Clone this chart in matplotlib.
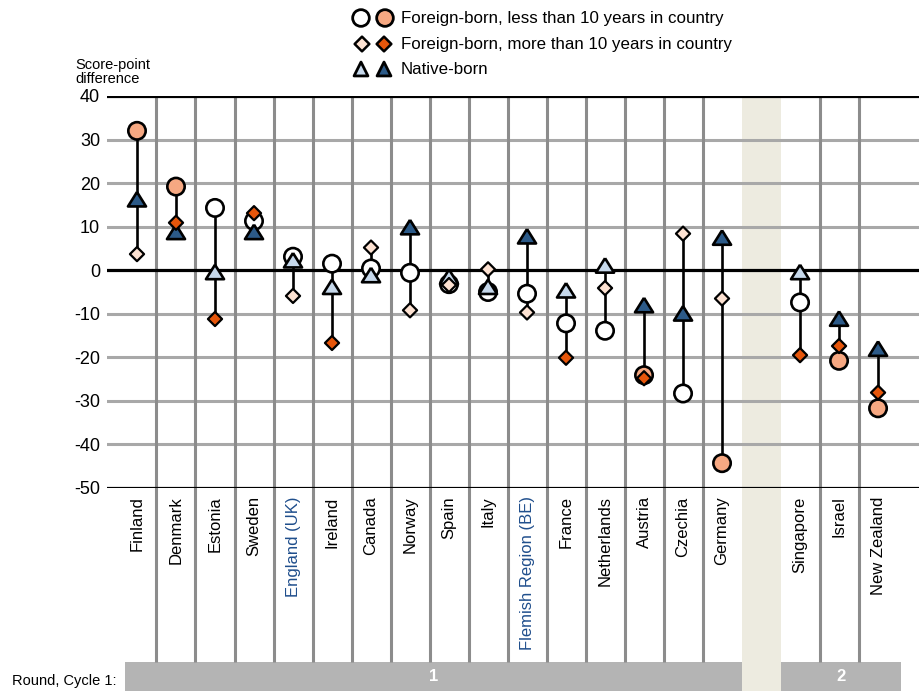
import numpy as np
import matplotlib.pyplot as plt
from matplotlib.patches import Rectangle

plt.rcParams['font.family'] = ['Liberation Sans', 'DejaVu Sans']
plt.rcParams['axes.unicode_minus'] = False

# Score-point differences by migrant background
countries = ["Finland", "Denmark", "Estonia", "Sweden", "England (UK)", "Ireland",
             "Canada", "Norway", "Spain", "Italy", "Flemish Region (BE)", "France",
             "Netherlands", "Austria", "Czechia", "Germany", "Singapore", "Israel",
             "New Zealand"]
rounds = [1] * 16 + [2] * 3
subnational = ["England (UK)", "Flemish Region (BE)"]

recent = [32.0, 19.2, 14.3, 11.3, 3.1, 1.5, 0.4, -0.6, -3.2, -5.0, -5.4, -12.2,
          -13.9, -24.1, -28.3, -44.3, -7.4, -20.8, -31.7]
recent_sig = [1, 1, 0, 0, 0, 0, 0, 0, 0, 0, 0, 0, 0, 1, 0, 1, 0, 1, 1]

settled = [3.7, 10.9, -11.2, 13.1, -5.9, -16.7, 5.2, -9.2, -3.4, 0.2, -9.7, -20.1,
           -4.1, -24.8, 8.4, -6.5, -19.5, -17.4, -28.1]
settled_sig = [0, 1, 1, 1, 0, 1, 0, 0, 0, 0, 0, 1, 0, 1, 0, 0, 1, 1, 1]

native = [16.3, 8.8, -0.4, 8.8, 2.3, -3.8, -1.1, 9.9, -1.5, -3.8, 7.8, -4.6, 1.1,
          -8.0, -9.9, 7.5, -0.4, -11.1, -18.0]
native_sig = [1, 1, 0, 1, 0, 0, 0, 1, 0, 0, 1, 0, 0, 1, 1, 1, 0, 1, 1]

legend_labels = ["Foreign-born, less than 10 years in country",
                 "Foreign-born, more than 10 years in country",
                 "Native-born"]

# colours: (not significant, significant)
circ_col = ("#ffffff", "#f6a882")
diam_col = ("#fde2d2", "#e6560b")
tri_col = ("#c6d8eb", "#2c5a88")
tri_marker = [(0, 0.8), (-1, -0.8), (1, -0.8), (0, 0.8)]

rounds = np.array(rounds)
pos = np.arange(len(countries)) + (rounds == 2)   # leave one empty column between rounds
gap = pos[rounds == 1].max() + 1

W, H = 919, 691
fig = plt.figure(figsize=(W / 100, H / 100), dpi=100)
ax = fig.add_axes([107 / W, 203 / H, 812 / W, 392 / H])
ax.set_xlim(-0.769, 20.05)
ax.set_ylim(-50, 40)
y_low = -50 - 174 / (392 / 90)
y_bot = -50 - 203 / (392 / 90)

# gap column
ax.add_patch(Rectangle((gap - 0.5, y_bot), 1, 40 - y_bot - 0.5, color="#edebe0",
                       lw=0, zorder=0, clip_on=False))

for y in range(-40, 40, 10):
    if y != 0:
        ax.axhline(y, color="#a8a8a8", lw=2.2, zorder=1)
for y in (40, 0, -50):
    ax.axhline(y, color="black", lw=2.3, zorder=2)

grid_x = [p + 0.5 for p, r, r2 in zip(pos[:-1], rounds[:-1], rounds[1:]) if r == r2]
ax.vlines(grid_x, y_low, 40, color="#8c8c8c", lw=2.2, zorder=1, clip_on=False)

# round bars
for r in (1, 2):
    ps = pos[rounds == r]
    x0 = ps.min() - (0.31 if r == 1 else 0.5)
    x1 = ps.max() + (0.5 if r == 1 else 0.58)
    ax.add_patch(Rectangle((x0, y_bot), x1 - x0, y_low - y_bot, color="#b4b4b4",
                           lw=0, zorder=0, clip_on=False))
    ax.text((x0 + x1) / 2, (y_low + y_bot) / 2, str(r), color="white",
            fontsize=12, fontweight="bold", ha="center", va="center")

lo = np.minimum(np.minimum(recent, settled), native)
hi = np.maximum(np.maximum(recent, settled), native)
ax.vlines(pos, lo, hi, color="black", lw=1.9, zorder=3)

ax.scatter(pos, recent, s=12.5 ** 2, marker="o",
           c=[circ_col[s] for s in recent_sig], edgecolors="black", linewidths=1.9,
           zorder=4)
ax.scatter(pos, native, s=13 ** 2, marker=tri_marker,
           c=[tri_col[s] for s in native_sig], edgecolors="black", linewidths=1.9,
           zorder=5)
ax.scatter(pos, settled, s=7.2 ** 2, marker="D",
           c=[diam_col[s] for s in settled_sig], edgecolors="black", linewidths=1.6,
           zorder=6)

for s in ax.spines.values():
    s.set_visible(False)
ax.set_yticks(range(-50, 41, 10))
ax.tick_params(axis="y", length=0, pad=5, labelsize=13)
ax.set_xticks(pos)
ax.set_xticklabels(countries, rotation=90, fontsize=12)
ax.tick_params(axis="x", length=0, pad=6)
for lbl in ax.get_xticklabels():
    if lbl.get_text() in subnational:
        lbl.set_color("#1f4e8c")

fig.text(75 / W, 1 - 58 / H, "Score-point\ndifference", fontsize=10.5, va="top",
         linespacing=1.0)
fig.text(12 / W, 1 - 681 / H, "Round, Cycle 1:", fontsize=10.5, va="center")

# legend
lg = fig.add_axes([0, 0, 1, 1], zorder=10)
lg.set_xlim(0, W)
lg.set_ylim(H, 0)
lg.axis("off")
rows = [18, 44, 69]
lg.scatter([361, 385], [rows[0]] * 2, s=12 ** 2, marker="o", c=list(circ_col),
           edgecolors="black", linewidths=2)
lg.scatter([362, 384], [rows[1]] * 2, s=7.5 ** 2, marker="D", c=list(diam_col),
           edgecolors="black", linewidths=1.8)
lg.scatter([361, 384], [rows[2]] * 2, s=10 ** 2, marker="^", c=list(tri_col),
           edgecolors="black", linewidths=2)
for y, t in zip(rows, legend_labels):
    lg.text(401, y, t, fontsize=12.2, va="center")

fig.savefig("out.png", dpi=100)
